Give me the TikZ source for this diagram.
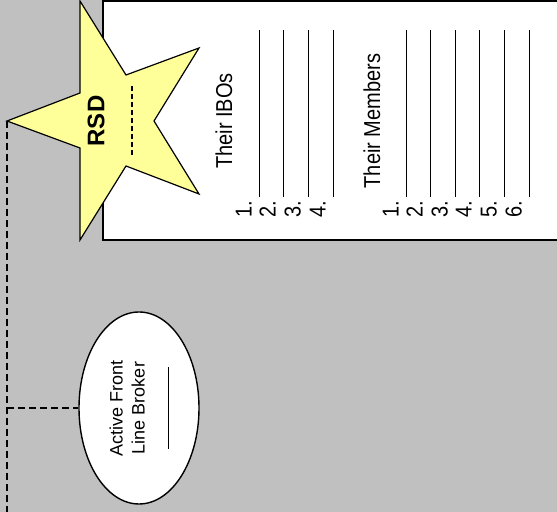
\documentclass[tikz,border=0pt]{standalone}
\usepackage{graphicx}
\usepackage{fontspec}
\setmainfont{Liberation Sans}
\usetikzlibrary{shapes.geometric,positioning,calc}
\definecolor{bggray}{HTML}{C0C0C0}
\definecolor{staryellow}{HTML}{FFFF99}
\newcommand{\tallbox}[1]{\scalebox{1}[1.15]{#1}}

\begin{document}
\begin{tikzpicture}[
  x=0.5pt, y=-0.5pt,
  sheet/.style={draw, line width=1.4pt, fill=white},
  starshape/.style={draw, line width=0.6pt, fill=staryellow, line join=miter},
  vtext/.style={rotate=90, inner sep=0pt, font=\fontsize{10}{12}\selectfont},
  item/.style={vtext, anchor=base east},
  broker/.style={draw, ellipse, line width=0.7pt, fill=white,
                 minimum width=60pt, minimum height=96pt},
  link/.style={line width=0.9pt, dash pattern=on 3.5pt off 2pt}
]
\fill[bggray] (0,0) rectangle (557,512);
\useasboundingbox (0,0) rectangle (557,512);

% sheet with the lists
\draw[sheet] (103,1) rectangle (580,240);

% the star
\draw[starshape] (7,121) -- (80,93) -- (80,1) -- (126,75) -- (199,48) -- (154,121)
  -- (199,194) -- (126,166) -- (80,240) -- (80,148) -- cycle;
\coordinate (rsdtip) at (7,121);
\node[vtext, font=\bfseries\fontsize{12}{14}\selectfont] (rsd) at (96,121) {RSD};
\draw[line width=1pt, dash pattern=on 2.5pt off 1.5pt] (132,86) -- (132,157);

% lists
\node[vtext] (ibohead) at (224,121) {\tallbox{Their IBOs}};
\foreach \n/\xx in {1/259,2/283,3/308,4/333}
  \node[item] (ibo\n) at ({\xx-7.5},30) {\tallbox{\n.\,\rule[-3.5pt]{83.5pt}{0.45pt}}};
\node[vtext] (memhead) at (372,121) {\tallbox{Their Members}};
\foreach \n/\xx in {1/406,2/430,3/455,4/479,5/504,6/529}
  \node[item] (mem\n) at ({\xx-7.5},30) {\tallbox{\n.\,\rule[-3.5pt]{83.5pt}{0.45pt}}};

% broker
\node[broker] (afb) at (139,408) {};
\node[vtext, align=center, font=\fontsize{9}{11}\selectfont] (afbtext) at (afb.center)
  {Active Front\\Line Broker\\\rule[-1pt]{41pt}{0.5pt}};

% connectors
\coordinate (linkfork) at (7,408);
\coordinate (linkend) at (7,516);
\draw[link] (rsdtip) -- (linkend);
\draw[link] (linkfork) -- (afb.west);
\end{tikzpicture}
\end{document}
